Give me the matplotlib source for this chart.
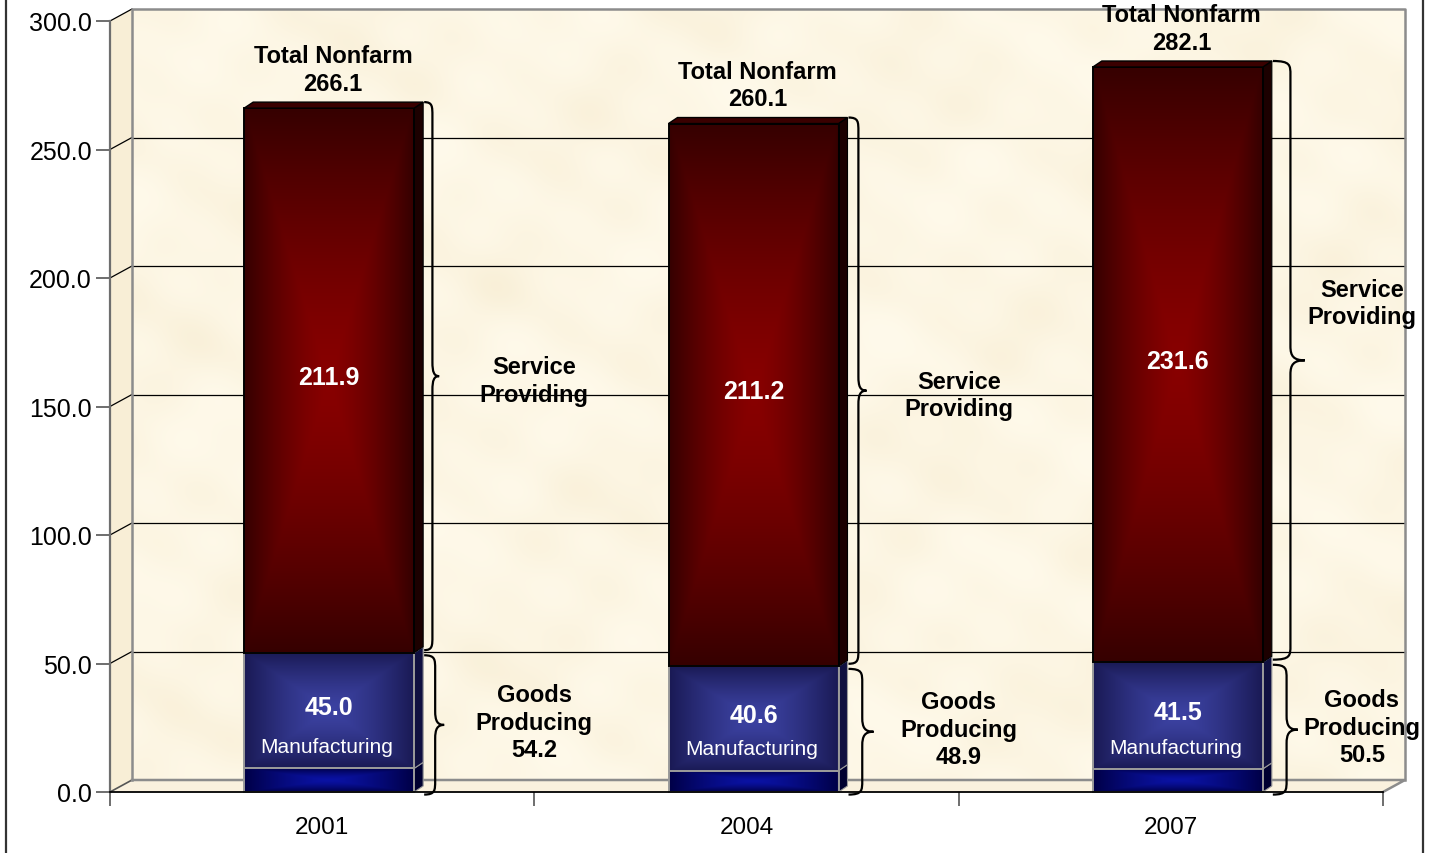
import matplotlib.pyplot as plt
import numpy as np
from matplotlib.patches import Polygon, Rectangle, PathPatch
from matplotlib.path import Path
from matplotlib.lines import Line2D
from matplotlib.ticker import FormatStrFormatter

plt.rcParams['font.family'] = ['Liberation Sans', 'DejaVu Sans']

# empleo no agricola (miles)
anios = ['2001', '2004', '2007']
total = [266.1, 260.1, 282.1]
servicios = [211.9, 211.2, 231.6]
bienes = [54.2, 48.9, 50.5]
manufactura = [45.0, 40.6, 41.5]
otros_bienes = [b - m for b, m in zip(bienes, manufactura)]

W_PX, H_PX = 1434, 854
fig = plt.figure(figsize=(W_PX / 100, H_PX / 100), dpi=100)
fig.patch.set_facecolor('white')

# ejes del plano frontal: x de 110 a 1383 px, y de 793 a 22 px
ax = fig.add_axes([110 / W_PX, (H_PX - 793) / H_PX, 1273 / W_PX, 771 / H_PX])
ax.patch.set_visible(False)
PX = 3 / 1273      # unidades x por pixel
PY = 300 / 771     # unidades y por pixel

wdx, wdy = 22 * PX, 12 * PY   # profundidad de la pared del fondo
bdx, bdy = 9 * PX, 6 * PY     # profundidad de las barras


def hexrgb(c):
    c = c.lstrip('#')
    return np.array([int(c[i:i + 2], 16) for i in (0, 2, 4)]) / 255


# pared del fondo con textura de pergamino
yy, xx = np.mgrid[0:1:300j, 0:1:600j]
n = (np.sin(xx * 23 + yy * 7) * np.sin(yy * 19 - xx * 5)
     + 0.6 * np.sin(xx * 41 + 2.0) * np.cos(yy * 37 + 1.3)
     + 0.4 * np.sin((xx + yy) * 63) + 0.3 * np.cos(xx * 87 - yy * 29))
n = (n - n.min()) / (n.max() - n.min())
claro, oscuro = hexrgb('#FFFAEB'), hexrgb('#F5E9CC')
tex = claro + (oscuro - claro) * (n[..., None] ** 1.5) * 0.6
im = ax.imshow(tex, extent=(-0.5 + wdx, 2.5 + wdx, wdy, 300 + wdy), origin='lower',
               aspect='auto', interpolation='bilinear', zorder=0)
im.set_clip_on(False)

# pared izquierda y piso
ax.add_patch(Polygon([(-0.5, 0), (-0.5, 300), (-0.5 + wdx, 300 + wdy), (-0.5 + wdx, wdy)],
                     closed=True, facecolor='#F8EED6', edgecolor='none', zorder=0.5, clip_on=False))
ax.add_patch(Polygon([(-0.5, 0), (2.5, 0), (2.5 + wdx, wdy), (-0.5 + wdx, wdy)],
                     closed=True, facecolor='#FAF1DE', edgecolor='none', zorder=0.5, clip_on=False))

# grilla
for v in range(50, 301, 50):
    ax.plot([-0.5, -0.5 + wdx], [v, v + wdy], color='black', lw=0.9, zorder=1, clip_on=False)
    if v < 300:
        ax.plot([-0.5 + wdx, 2.5 + wdx], [v + wdy, v + wdy], color='black', lw=0.9, zorder=1, clip_on=False)
ax.plot([-0.5, -0.5 + wdx], [0, wdy], color='#555555', lw=1.2, zorder=1, clip_on=False)
borde = dict(color='#8C8C8C', lw=1.8, zorder=1.2, clip_on=False)
ax.plot([-0.5 + wdx, -0.5 + wdx, 2.5 + wdx, 2.5 + wdx], [wdy, 300 + wdy, 300 + wdy, wdy], **borde)
ax.plot([-0.5 + wdx, 2.5 + wdx, 2.5], [wdy, wdy, 0], **borde)


def cara(x0, x1, y0, y1, c_out, c_in, z):
    u = np.linspace(-1, 1, 80)
    v = np.linspace(-1, 1, 160)
    U, V = np.meshgrid(u, v)
    t = np.maximum(np.abs(U), np.abs(V)) ** 1.4
    c_out, c_in = hexrgb(c_out), hexrgb(c_in)
    img = c_in + (c_out - c_in) * t[..., None]
    ax.imshow(img, extent=(x0, x1, y0, y1), origin='lower', aspect='auto',
              interpolation='bilinear', zorder=z)


def llave(x0, w, ytop, ybot, r):
    xm = x0 + w * 0.55
    ym = (ytop + ybot) / 2
    verts = [(x0, ytop), (xm, ytop), (xm, ytop - r * 0.3), (xm, ytop - r),
             (xm, ym + r),
             (xm, ym + r * 0.3), (xm + (w * 0.1), ym), (x0 + w, ym),
             (xm + (w * 0.1), ym), (xm, ym - r * 0.3), (xm, ym - r),
             (xm, ybot + r),
             (xm, ybot + r * 0.3), (xm, ybot), (x0, ybot)]
    codes = [Path.MOVETO, Path.CURVE4, Path.CURVE4, Path.CURVE4, Path.LINETO,
             Path.CURVE4, Path.CURVE4, Path.CURVE4,
             Path.CURVE4, Path.CURVE4, Path.CURVE4, Path.LINETO,
             Path.CURVE4, Path.CURVE4, Path.CURVE4]
    ax.add_patch(PathPatch(Path(verts, codes), facecolor='none', edgecolor='black',
                           lw=1.6, zorder=6, clip_on=False))


ancho = 170 * PX
estilos = [  # (borde, exterior, centro, lateral)
    ('#9A9A9A', '#000048', '#0A12A4', '#000030'),
    ('#9A9A9A', '#1A1A55', '#3C42A2', '#101040'),
    ('black', '#360000', '#880000', '#1C0000'),
]
llave_serv_px = [15, 18, 32]
llave_bien_px = [20, 25, 25]
lado_x = [0.5, 1.5, 2.45]
serv_dy = [0, 0, 24]

for i in range(len(anios)):
    xc = i + 7 * PX
    x0, x1 = xc - ancho / 2, xc + ancho / 2
    bases = [0, otros_bienes[i], bienes[i]]
    altos = [otros_bienes[i], manufactura[i], servicios[i]]
    for k, (b, h) in enumerate(zip(bases, altos)):
        ec, c_out, c_in, c_lat = estilos[k]
        cara(x0, x1, b, b + h, c_out, c_in, 3)
        ax.add_patch(Rectangle((x0, b), ancho, h, facecolor='none', edgecolor=ec,
                               lw=1.4, zorder=3.5, clip_on=False))
        ax.add_patch(Polygon([(x1, b), (x1 + bdx, b + bdy), (x1 + bdx, b + h + bdy), (x1, b + h)],
                             closed=True, facecolor=c_lat, edgecolor=ec, lw=0.8,
                             zorder=3.2, clip_on=False))
    top = total[i]
    ax.add_patch(Polygon([(x0, top), (x1, top), (x1 + bdx, top + bdy), (x0 + bdx, top + bdy)],
                         closed=True, facecolor='#3A0000', edgecolor='black', lw=1,
                         zorder=3.6, clip_on=False))

    # llaves
    llave(x1 + bdx + 1 * PX, llave_serv_px[i] * PX, top + bdy, bienes[i] + 1, 14 * PY)
    llave(x1 + bdx + 1 * PX, llave_bien_px[i] * PX, bienes[i] - 1, -1, 14 * PY)

    # textos
    ax.text(xc + 4 * PX, top + 15, f'Total Nonfarm\n{top:.1f}', ha='center', va='center',
            fontsize=17, fontweight='bold', linespacing=1.25, zorder=7, clip_on=False)
    ax.text(xc, bienes[i] + servicios[i] / 2 + 1.5, f'{servicios[i]:.1f}', ha='center',
            va='center', fontsize=18, fontweight='bold', color='white', zorder=7)
    ax.text(xc, otros_bienes[i] + manufactura[i] / 2 + 1.5, f'{manufactura[i]:.1f}',
            ha='center', va='center', fontsize=18, fontweight='bold', color='white', zorder=7)
    ax.text(xc - 2 * PX, otros_bienes[i] + 8.5, 'Manufacturing', ha='center', va='center',
            fontsize=15, color='white', zorder=7)
    ax.text(lado_x[i], bienes[i] + servicios[i] / 2 + serv_dy[i], 'Service\nProviding',
            ha='center', va='center', fontsize=17, fontweight='bold', linespacing=1.25,
            zorder=7, clip_on=False)
    ax.text(lado_x[i], bienes[i] / 2, f'Goods\nProducing\n{bienes[i]:.1f}', ha='center',
            va='center', fontsize=17, fontweight='bold', linespacing=1.25, zorder=7,
            clip_on=False)

ax.set_xlim(-0.5, 2.5)
ax.set_ylim(0, 300)

# ejes
for s in ['top', 'right']:
    ax.spines[s].set_visible(False)
ax.spines['left'].set_color('#6E6E6E')
ax.spines['left'].set_linewidth(1.6)
ax.spines['bottom'].set_color('black')
ax.spines['bottom'].set_linewidth(1.3)
ax.spines['bottom'].set_zorder(8)
ax.set_yticks(np.arange(0, 301, 50))
ax.yaxis.set_major_formatter(FormatStrFormatter('%.1f'))
ax.tick_params(axis='y', direction='out', length=10, width=1.2, color='#555555',
               labelsize=18, pad=3)
ax.set_xticks([-0.5, 0.5, 1.5, 2.5])
ax.set_xticklabels([])
ax.set_xticks([0, 1, 2], minor=True)
ax.set_xticklabels(anios, minor=True)
ax.tick_params(axis='x', which='major', direction='out', length=10, width=1.2, color='#555555')
ax.tick_params(axis='x', which='minor', length=0, labelsize=17.5, pad=17)

# marco exterior
fig.add_artist(Line2D([6 / W_PX, 6 / W_PX], [0, 1], transform=fig.transFigure, color='#333333', lw=1.6))
fig.add_artist(Line2D([1423 / W_PX, 1423 / W_PX], [0, 1], transform=fig.transFigure, color='#333333', lw=1.6))

plt.savefig('out.png', dpi=100)
